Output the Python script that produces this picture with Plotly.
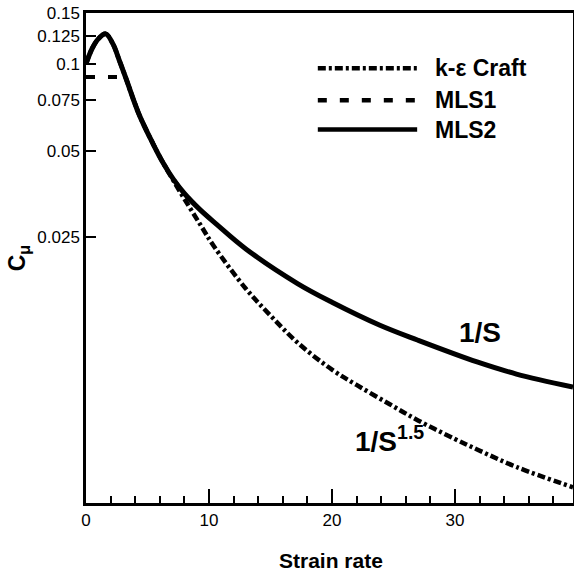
import math
import plotly.graph_objects as go

# values
strain_mls2 = [0, 0.5, 1.0, 1.6, 2.2, 2.7, 3.25, 4.3, 5.45, 6.3, 7.1, 8.0, 9.27, 10.6,
               13.0, 17.2, 20.0, 23.9, 27.0, 31.8, 35.0, 39.6]
cmu_mls2 = [0.100, 0.113, 0.122, 0.127, 0.117, 0.103, 0.089, 0.067, 0.0528, 0.0451,
            0.0398, 0.0355, 0.0312, 0.0278, 0.0228, 0.0173, 0.0149, 0.0124, 0.0110,
            0.00925, 0.0084, 0.00757]

strain_craft = [0, 0.5, 1.0, 1.6, 2.2, 2.7, 3.25, 4.3, 5.45, 6.3, 7.1, 8.0, 9.27, 10.4,
                13.0, 15.0, 17.2, 20.0, 22.0, 24.7, 27.0, 30.0, 31.8, 35.0, 39.6]
cmu_craft = [0.100, 0.113, 0.122, 0.127, 0.117, 0.103, 0.089, 0.067, 0.0528, 0.0451,
             0.0394, 0.0340, 0.0278, 0.0233, 0.0166, 0.0134, 0.0108, 0.0087, 0.0077,
             0.0066, 0.0058, 0.0050, 0.0046, 0.0040, 0.0034]

strain_mls1 = [0, 3.2, 3.25, 4.3, 5.45, 6.3, 7.1, 8.0, 9.27, 10.6]
cmu_mls1 = [0.09, 0.09, 0.089, 0.067, 0.0528, 0.0451, 0.0398, 0.0355, 0.0312, 0.0278]

series_names = ["k-ε Craft", "MLS1", "MLS2"]
ytick_vals = [0.025, 0.05, 0.075, 0.1, 0.125, 0.15]
ytick_text = ["0.025", "0.05", "0.075", "0.1", "0.125", "0.15"]
x_range = [0, 39.6]
y_range = [0.0030, 0.15]

FONT = "Liberation Sans"
dashdot = "8px,3px,3px,3px"
dashed = "9px,13px"

fig = go.Figure()
fig.add_trace(go.Scatter(x=strain_mls1, y=cmu_mls1, mode="lines", name=series_names[1],
                         line=dict(color="black", width=4, dash=dashed)))
fig.add_trace(go.Scatter(x=strain_craft, y=cmu_craft, mode="lines", name=series_names[0],
                         line=dict(color="black", width=4.5, dash=dashdot, shape="spline")))
fig.add_trace(go.Scatter(x=strain_mls2, y=cmu_mls2, mode="lines", name=series_names[2],
                         line=dict(color="black", width=5, shape="spline")))

# legend drawn by hand (long line samples)
leg_y = [0.887, 0.822, 0.762]
leg_dash = [dashdot, dashed, "solid"]
for i, name in enumerate(series_names):
    fig.add_shape(type="line", xref="paper", yref="paper", x0=0.476, x1=0.680,
                  y0=leg_y[i], y1=leg_y[i],
                  line=dict(color="black", width=4.5, dash=leg_dash[i]))
    fig.add_annotation(xref="paper", yref="paper", x=0.712, y=leg_y[i], text=name,
                       showarrow=False, xanchor="left", yanchor="middle",
                       font=dict(family=FONT, size=23, color="black", weight="bold"))

fig.add_annotation(x=32.0, y=math.log10(0.0117), text="1/S", showarrow=False,
                   xanchor="center", yanchor="middle",
                   font=dict(family=FONT, size=28, color="black", weight="bold"))
fig.add_annotation(x=21.7, y=math.log10(0.0050), text="1/S<sup>1.5</sup>", showarrow=False,
                   xanchor="left", yanchor="middle",
                   font=dict(family=FONT, size=28, color="black", weight="bold"))

fig.add_annotation(xref="paper", yref="paper", x=-0.139, y=0.5, text="C<sub>μ</sub>",
                   showarrow=False, textangle=-90, xanchor="center", yanchor="middle",
                   font=dict(family=FONT, size=23, color="black", weight="bold"))
fig.add_annotation(xref="paper", yref="paper", x=0.503, y=-0.118, text="Strain rate",
                   showarrow=False, xanchor="center", yanchor="middle",
                   font=dict(family=FONT, size=21, color="black", weight="bold"))

fig.update_layout(
    width=574, height=574,
    margin=dict(l=86, r=1, t=13, b=71, autoexpand=False),
    paper_bgcolor="white", plot_bgcolor="white",
    showlegend=False,
    font=dict(family=FONT, size=17, color="black"),
    xaxis=dict(range=x_range, dtick=10, tick0=0, ticks="inside", ticklen=14, tickwidth=2,
               tickcolor="black", showline=True, linecolor="black", linewidth=2.5,
               mirror=True, showgrid=False, zeroline=False, automargin=False,
               minor=dict(dtick=2, ticks="inside", ticklen=7, tickwidth=1.5,
                          tickcolor="black", showgrid=False)),
    yaxis=dict(type="log", range=[math.log10(y_range[0]), math.log10(y_range[1])],
               tickvals=ytick_vals, ticktext=ytick_text, ticks="inside", ticklen=10,
               tickwidth=2, tickcolor="black", showline=True, linecolor="black",
               linewidth=2.5, mirror=True, showgrid=False, zeroline=False,
               automargin=False),
)

# the page body has a default 8px margin; drop it so the figure sits at the corner
fig.write_html("out.html", config={"displayModeBar": False},
               post_script="document.body.style.margin='0';")
